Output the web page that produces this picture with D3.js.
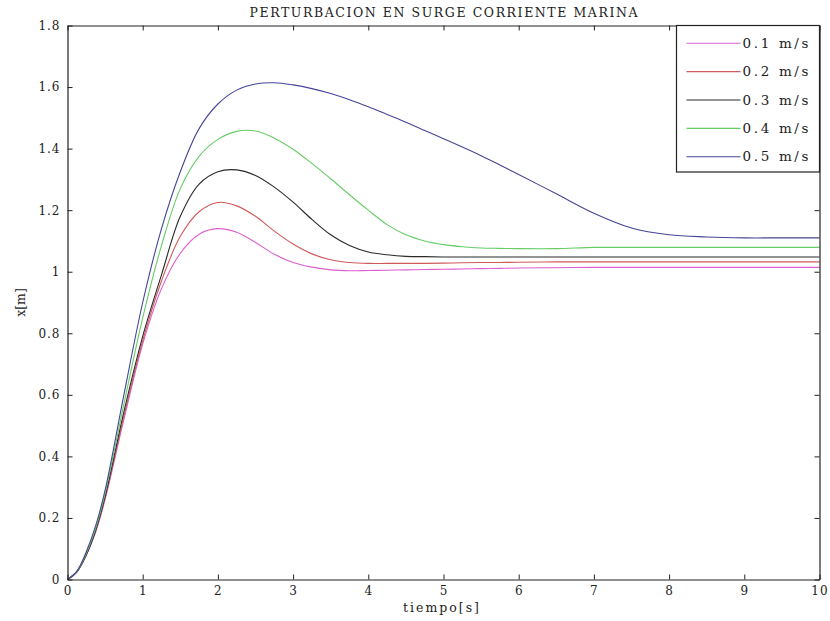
<!DOCTYPE html>
<html>
<head>
<meta charset="utf-8">
<script src="https://cdn.jsdelivr.net/npm/d3@7"></script>
<style>
  html, body { margin: 0; padding: 0; background: #fff; }
  svg { display: block; }
  text { font-family: "DejaVu Serif", "Liberation Serif", serif; fill: #222; }
</style>
</head>
<body>
<svg id="chart" width="830" height="621"></svg>
<script>
// Simulation time samples [s]
const tiempo = [0, 0.125, 0.25, 0.375, 0.5, 0.75, 1, 1.25, 1.5, 1.75, 2, 2.25, 2.5, 2.75, 3, 3.25, 3.5, 3.75, 4, 4.25, 4.5, 4.75, 5, 5.25, 5.5, 5.75, 6, 6.5, 7, 7.5, 8, 8.5, 9, 9.5, 10];

// Surge displacement x [m] for each current speed
const surge01 = [0, 0.025, 0.08, 0.155, 0.26, 0.52, 0.765, 0.945, 1.06, 1.122, 1.14, 1.128, 1.095, 1.057, 1.03, 1.015, 1.006, 1.003, 1.004, 1.005, 1.006, 1.007, 1.008, 1.009, 1.01, 1.011, 1.012, 1.013, 1.014, 1.014, 1.014, 1.014, 1.014, 1.014, 1.014];
const surge02 = [0, 0.025, 0.08, 0.158, 0.265, 0.53, 0.775, 0.97, 1.115, 1.195, 1.225, 1.214, 1.18, 1.132, 1.09, 1.058, 1.039, 1.03, 1.027, 1.027, 1.027, 1.027, 1.028, 1.029, 1.03, 1.03, 1.031, 1.032, 1.032, 1.032, 1.032, 1.032, 1.032, 1.032, 1.032];
const surge03 = [0, 0.025, 0.08, 0.16, 0.27, 0.545, 0.79, 0.99, 1.18, 1.285, 1.325, 1.331, 1.313, 1.275, 1.226, 1.17, 1.12, 1.085, 1.064, 1.055, 1.05, 1.049, 1.048, 1.048, 1.048, 1.048, 1.048, 1.048, 1.048, 1.048, 1.048, 1.048, 1.048, 1.048, 1.048];
const surge04 = [0, 0.026, 0.085, 0.167, 0.28, 0.57, 0.85, 1.085, 1.27, 1.375, 1.43, 1.456, 1.457, 1.434, 1.398, 1.352, 1.302, 1.25, 1.2, 1.153, 1.12, 1.1, 1.088, 1.081, 1.077, 1.076, 1.075, 1.075, 1.079, 1.079, 1.079, 1.079, 1.079, 1.079, 1.079];
const surge05 = [0, 0.027, 0.09, 0.175, 0.29, 0.6, 0.9, 1.14, 1.325, 1.465, 1.545, 1.59, 1.61, 1.614, 1.607, 1.595, 1.579, 1.559, 1.536, 1.511, 1.486, 1.459, 1.432, 1.405, 1.377, 1.347, 1.316, 1.253, 1.19, 1.142, 1.12, 1.113, 1.11, 1.11, 1.11];

const seriesLabels = ["0.1 m/s", "0.2 m/s", "0.3 m/s", "0.4 m/s", "0.5 m/s"];
const seriesColors = ["#dd5fd0", "#d05a5a", "#2a2a2a", "#66cc66", "#45459a"];

const xTickValues = [0, 1, 2, 3, 4, 5, 6, 7, 8, 9, 10];
const yTickValues = [0, 0.2, 0.4, 0.6, 0.8, 1, 1.2, 1.4, 1.6, 1.8];

const titleText = "PERTURBACION EN SURGE CORRIENTE MARINA";
const xLabelText = "tiempo[s]";
const yLabelText = "x[m]";

const allSeries = [surge01, surge02, surge03, surge04, surge05];

const svg = d3.select("#chart");
const plotLeft = 67.5, plotRight = 819.5, plotTop = 25.5, plotBottom = 579.5;

const x = d3.scaleLinear().domain([0, 10]).range([plotLeft, plotRight]);
const y = d3.scaleLinear().domain([0, 1.8]).range([plotBottom, plotTop]);

// Curves
const line = d3.line()
  .x(d => x(d[0]))
  .y(d => y(d[1]))
  .curve(d3.curveCatmullRom.alpha(0.5));

svg.append("g")
  .selectAll("path")
  .data(allSeries)
  .join("path")
  .attr("d", vals => line(tiempo.map((t, i) => [t, vals[i]])))
  .attr("fill", "none")
  .attr("stroke", (d, i) => seriesColors[i])
  .attr("stroke-width", 1.1);

// Axes: ticks pointing inward on all four sides
const fmt = d3.format("~g");
function styleAxis(g) {
  g.selectAll("path.domain").attr("stroke", "#222").attr("stroke-width", 1.2);
  g.selectAll(".tick line").attr("stroke", "#222");
  g.selectAll(".tick text")
    .attr("font-family", "DejaVu Serif, serif")
    .attr("font-size", 12)
    .attr("fill", "#333")
    .style("letter-spacing", "1px");
}

svg.append("g")
  .attr("transform", `translate(0,${plotBottom})`)
  .call(d3.axisBottom(x).tickValues(xTickValues).tickFormat(fmt).tickSize(-5).tickSizeOuter(0).tickPadding(6.5))
  .call(styleAxis);

svg.append("g")
  .attr("transform", `translate(0,${plotTop})`)
  .call(d3.axisTop(x).tickValues(xTickValues).tickFormat("").tickSize(-5).tickSizeOuter(0))
  .call(styleAxis);

svg.append("g")
  .attr("transform", `translate(${plotLeft},0)`)
  .call(d3.axisLeft(y).tickValues(yTickValues).tickFormat(fmt).tickSize(-5).tickSizeOuter(0).tickPadding(7))
  .call(styleAxis);

svg.append("g")
  .attr("transform", `translate(${plotRight},0)`)
  .call(d3.axisRight(y).tickValues(yTickValues).tickFormat("").tickSize(-5).tickSizeOuter(0))
  .call(styleAxis);

// Title and axis labels
svg.append("text")
  .attr("x", (plotLeft + plotRight) / 2)
  .attr("y", 17)
  .attr("text-anchor", "middle")
  .attr("font-size", 12.5)
  .attr("textLength", 388)
  .attr("lengthAdjust", "spacing")
  .text(titleText);

svg.append("text")
  .attr("x", 441)
  .attr("y", 612)
  .attr("text-anchor", "middle")
  .attr("font-size", 12.5)
  .attr("textLength", 76)
  .attr("lengthAdjust", "spacing")
  .text(xLabelText);

svg.append("text")
  .attr("transform", `translate(25,${(plotTop + plotBottom) / 2}) rotate(-90)`)
  .attr("text-anchor", "middle")
  .attr("font-size", 12.5)
  .text(yLabelText);

// Legend
const legX = 676.5, legY = plotTop, legW = 143, legH = 146.5, rowH = 28.35;
const legend = svg.append("g");
legend.append("rect")
  .attr("x", legX).attr("y", legY)
  .attr("width", legW).attr("height", legH)
  .attr("fill", "#fff")
  .attr("stroke", "#222")
  .attr("stroke-width", 1.2);

const rows = legend.selectAll("g.row")
  .data(seriesLabels)
  .join("g")
  .attr("class", "row")
  .attr("transform", (d, i) => `translate(${legX},${legY + 17.8 + i * rowH})`);

rows.append("line")
  .attr("x1", 10).attr("x2", 64)
  .attr("y1", 0).attr("y2", 0)
  .attr("stroke", (d, i) => seriesColors[i])
  .attr("stroke-width", 1.1);

rows.append("text")
  .attr("x", 66)
  .attr("y", 4.5)
  .attr("font-size", 13.5)
  .attr("textLength", 66)
  .attr("lengthAdjust", "spacing")
  .text(d => d);
</script>
</body>
</html>
